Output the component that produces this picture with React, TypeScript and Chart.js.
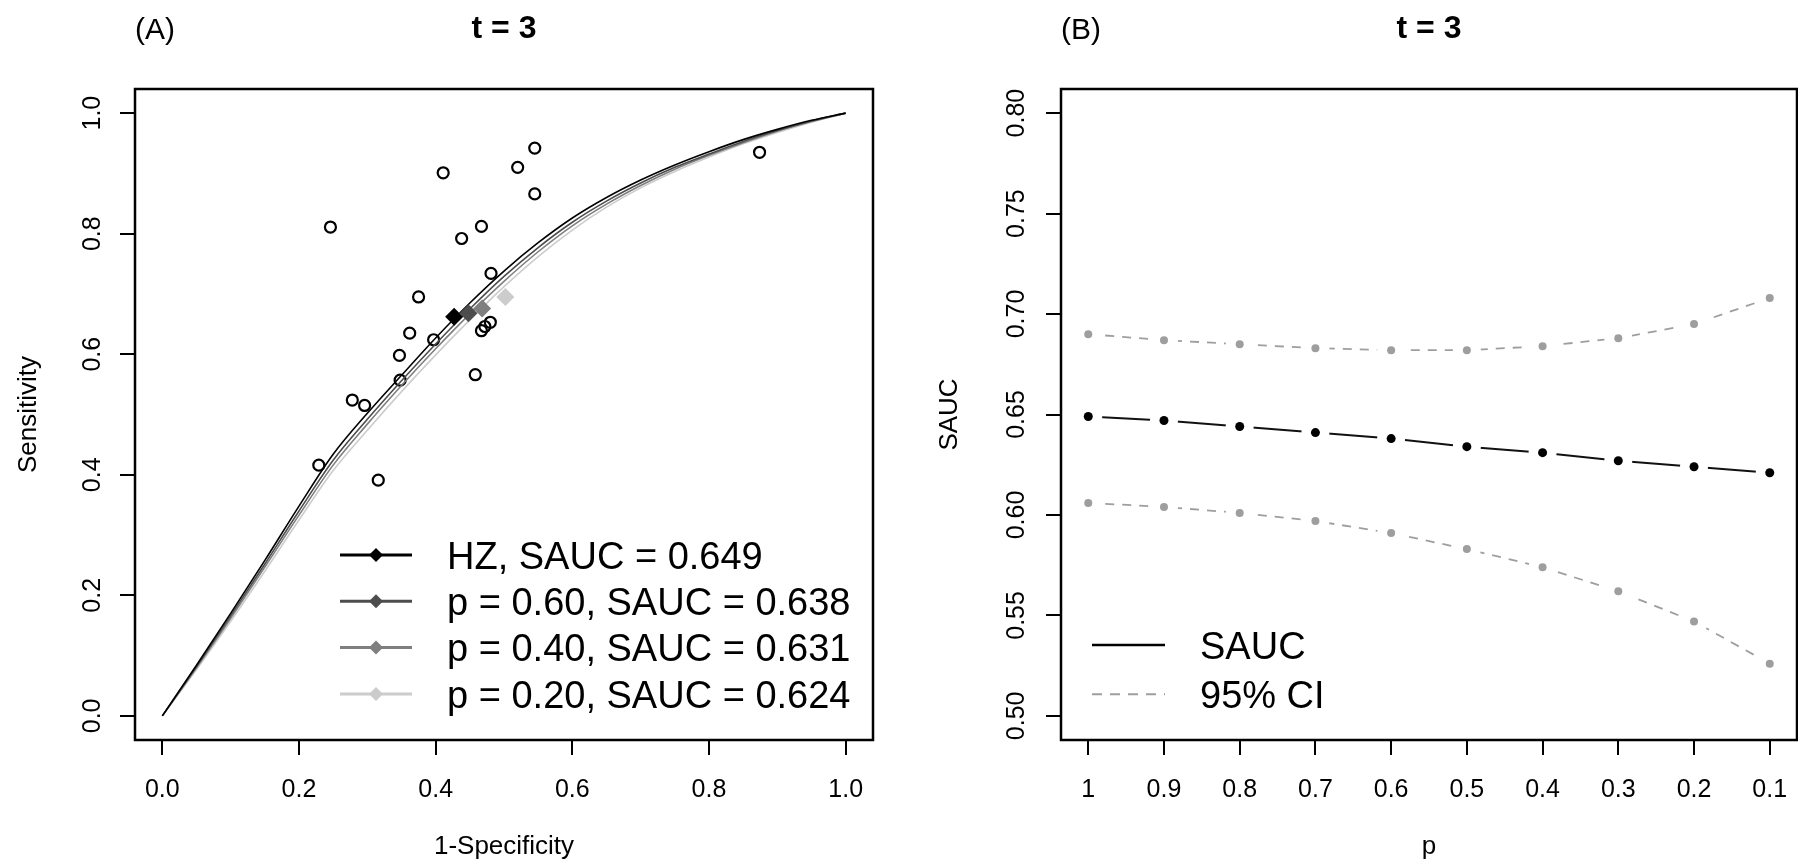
import React, { useEffect, useRef } from "react";
import { Chart, registerables } from "chart.js";

Chart.register(...registerables);

const FONT = '"Liberation Sans", Arial, Helvetica, sans-serif';

// ---------------- Panel A data ----------------
const ROC_FPR = [0, 0.05, 0.1, 0.15, 0.2, 0.25, 0.3, 0.35, 0.4, 0.45, 0.5, 0.55, 0.6, 0.65, 0.7, 0.75, 0.8, 0.85, 0.9, 0.95, 1.0];
const ROC_HZ = [0, 0.084, 0.170, 0.258, 0.348, 0.434, 0.502, 0.565, 0.627, 0.685, 0.738, 0.785, 0.826, 0.860, 0.889, 0.914, 0.936, 0.956, 0.973, 0.988, 1.0];
const ROC_P60 = [0, 0.082, 0.166, 0.252, 0.340, 0.424, 0.492, 0.556, 0.617, 0.675, 0.729, 0.777, 0.819, 0.854, 0.884, 0.910, 0.932, 0.953, 0.971, 0.987, 1.0];
const ROC_P40 = [0, 0.080, 0.162, 0.247, 0.333, 0.416, 0.484, 0.548, 0.609, 0.667, 0.721, 0.770, 0.813, 0.849, 0.880, 0.907, 0.930, 0.951, 0.970, 0.986, 1.0];
const ROC_P20 = [0, 0.077, 0.157, 0.240, 0.325, 0.407, 0.474, 0.538, 0.599, 0.657, 0.712, 0.762, 0.806, 0.844, 0.876, 0.903, 0.927, 0.949, 0.968, 0.985, 1.0];

const SUMMARY_FPR = [0.427, 0.448, 0.468, 0.502];
const SUMMARY_SENS = [0.662, 0.668, 0.676, 0.695];
const CURVE_LABELS = [
  "HZ, SAUC = 0.649",
  "p = 0.60, SAUC = 0.638",
  "p = 0.40, SAUC = 0.631",
  "p = 0.20, SAUC = 0.624",
];

const STUDY_FPR = [0.229, 0.246, 0.278, 0.296, 0.316, 0.348, 0.347, 0.362, 0.375, 0.397, 0.411, 0.438, 0.458, 0.467, 0.467, 0.472, 0.480, 0.481, 0.520, 0.545, 0.545, 0.874];
const STUDY_SENS = [0.416, 0.811, 0.524, 0.515, 0.391, 0.557, 0.598, 0.635, 0.695, 0.624, 0.901, 0.792, 0.566, 0.812, 0.639, 0.646, 0.653, 0.734, 0.910, 0.942, 0.866, 0.935];

const A_TICKS = [0, 0.2, 0.4, 0.6, 0.8, 1.0];
const A_TICK_LABELS = ["0.0", "0.2", "0.4", "0.6", "0.8", "1.0"];

// ---------------- Panel B data ----------------
const P_VALUES = [1, 0.9, 0.8, 0.7, 0.6, 0.5, 0.4, 0.3, 0.2, 0.1];
const P_TICK_LABELS = ["1", "0.9", "0.8", "0.7", "0.6", "0.5", "0.4", "0.3", "0.2", "0.1"];
const SAUC_VALUES = [0.649, 0.647, 0.644, 0.641, 0.638, 0.634, 0.631, 0.627, 0.624, 0.621];
const CI_UPPER = [0.690, 0.687, 0.685, 0.683, 0.682, 0.682, 0.684, 0.688, 0.695, 0.708];
const CI_LOWER = [0.606, 0.604, 0.601, 0.597, 0.591, 0.583, 0.574, 0.562, 0.547, 0.526];
const B_Y_TICKS = [0.5, 0.55, 0.6, 0.65, 0.7, 0.75, 0.8];
const B_Y_TICK_LABELS = ["0.50", "0.55", "0.60", "0.65", "0.70", "0.75", "0.80"];
const B_LEGEND = ["SAUC", "95% CI"];

// ---------------- styles ----------------
const CURVE_COLORS = ["#000000", "#4d4d4d", "#7f7f7f", "#cccccc"];
const CI_COLOR = "#9e9e9e";

function labelFor(values: number[], labels: string[], v: number) {
  const i = values.findIndex((t) => Math.abs(t - v) < 1e-9);
  return i >= 0 ? labels[i] : "";
}

function fixX(height: number) {
  return (s: any) => {
    s.height = height;
    s.paddingLeft = 0;
    s.paddingRight = 0;
    s.paddingTop = 0;
    s.paddingBottom = 0;
  };
}
function fixY(width: number) {
  return (s: any) => {
    s.width = width;
    s.paddingLeft = 0;
    s.paddingRight = 0;
    s.paddingTop = 0;
    s.paddingBottom = 0;
  };
}

const boxPlugin = {
  id: "box",
  afterDraw(chart: any) {
    const { ctx, chartArea: a } = chart;
    ctx.save();
    ctx.strokeStyle = "#000";
    ctx.lineWidth = 2.5;
    ctx.strokeRect(a.left, a.top, a.right - a.left, a.bottom - a.top);
    ctx.restore();
  },
};

const panelTitlePlugin = {
  id: "panelTitle",
  afterDraw(chart: any, _args: any, opts: any) {
    const { ctx, chartArea: a } = chart;
    ctx.save();
    ctx.fillStyle = "#000";
    ctx.textBaseline = "alphabetic";
    ctx.font = `30px ${FONT}`;
    ctx.textAlign = "left";
    ctx.fillText(opts.tag, a.left, 39);
    ctx.font = `bold 32px ${FONT}`;
    ctx.textAlign = "center";
    ctx.fillText(opts.title, (a.left + a.right) / 2, 38);
    ctx.restore();
  },
};

function diamond(ctx: CanvasRenderingContext2D, x: number, y: number, r: number) {
  ctx.beginPath();
  ctx.moveTo(x - r, y);
  ctx.lineTo(x, y - r);
  ctx.lineTo(x + r, y);
  ctx.lineTo(x, y + r);
  ctx.closePath();
  ctx.fill();
}

const legendAPlugin = {
  id: "legendA",
  afterDraw(chart: any) {
    const { ctx, chartArea: a } = chart;
    const x0 = a.left + 205;
    const x1 = a.left + 277;
    const xm = (x0 + x1) / 2;
    const tx = a.left + 312;
    ctx.save();
    CURVE_LABELS.forEach((label, i) => {
      const y = a.bottom - 185 + i * 46.3;
      ctx.strokeStyle = CURVE_COLORS[i];
      ctx.lineWidth = 3;
      ctx.beginPath();
      ctx.moveTo(x0, y);
      ctx.lineTo(x1, y);
      ctx.stroke();
      ctx.fillStyle = CURVE_COLORS[i];
      diamond(ctx, xm, y, 7);
      ctx.fillStyle = "#000";
      ctx.font = `38px ${FONT}`;
      ctx.textAlign = "left";
      ctx.textBaseline = "alphabetic";
      ctx.fillText(label, tx, y + 13.6);
    });
    ctx.restore();
  },
};

const legendBPlugin = {
  id: "legendB",
  afterDraw(chart: any) {
    const { ctx, chartArea: a } = chart;
    const x0 = a.left + 31;
    const x1 = a.left + 104;
    const tx = a.left + 139;
    const rows = [a.bottom - 95, a.bottom - 45.7];
    ctx.save();
    ctx.strokeStyle = "#000";
    ctx.lineWidth = 2.5;
    ctx.setLineDash([]);
    ctx.beginPath();
    ctx.moveTo(x0, rows[0]);
    ctx.lineTo(x1, rows[0]);
    ctx.stroke();
    ctx.strokeStyle = CI_COLOR;
    ctx.lineWidth = 2;
    ctx.setLineDash([10, 8]);
    ctx.beginPath();
    ctx.moveTo(x0, rows[1]);
    ctx.lineTo(x1, rows[1]);
    ctx.stroke();
    ctx.setLineDash([]);
    ctx.fillStyle = "#000";
    ctx.font = `38px ${FONT}`;
    ctx.textAlign = "left";
    ctx.textBaseline = "alphabetic";
    B_LEGEND.forEach((t, i) => ctx.fillText(t, tx, rows[i] + 13.6));
    ctx.restore();
  },
};

const tickFont = { family: FONT, size: 25 };
const titleFont = { family: FONT, size: 26 };
const tickGrid = { drawOnChartArea: false, drawTicks: true, tickLength: 15, color: "#000", lineWidth: 2 };

function configA(): any {
  const curve = (ys: number[], i: number) => ({
    label: CURVE_LABELS[i],
    data: ROC_FPR.map((x, k) => ({ x, y: ys[k] })),
    showLine: true,
    borderColor: CURVE_COLORS[i],
    borderWidth: 1.6,
    pointRadius: 0,
    cubicInterpolationMode: "monotone",
  });
  return {
    type: "scatter",
    data: {
      datasets: [
        {
          label: "Summary points",
          data: SUMMARY_FPR.map((x, k) => ({ x, y: SUMMARY_SENS[k] })),
          pointStyle: "rectRot",
          pointRadius: 9,
          pointBackgroundColor: CURVE_COLORS,
          pointBorderColor: CURVE_COLORS,
          pointBorderWidth: 0,
        },
        curve(ROC_HZ, 0),
        curve(ROC_P60, 1),
        curve(ROC_P40, 2),
        curve(ROC_P20, 3),
        {
          label: "Studies",
          data: STUDY_FPR.map((x, k) => ({ x, y: STUDY_SENS[k] })),
          pointStyle: "circle",
          pointRadius: 5.5,
          pointBorderWidth: 2.2,
          pointBorderColor: "#000",
          pointBackgroundColor: "rgba(0,0,0,0)",
        },
      ],
    },
    options: {
      responsive: false,
      animation: false,
      devicePixelRatio: 1,
      layout: { autoPadding: false, padding: { top: 89, right: 27, bottom: 0, left: 0 } },
      plugins: {
        legend: { display: false },
        tooltip: { enabled: false },
        panelTitle: { tag: "(A)", title: "t = 3" },
      },
      scales: {
        x: {
          type: "linear",
          min: -0.04,
          max: 1.04,
          afterBuildTicks: (s: any) => {
            s.ticks = A_TICKS.map((v) => ({ value: v }));
          },
          afterFit: fixX(123),
          ticks: {
            callback: (v: number) => labelFor(A_TICKS, A_TICK_LABELS, v),
            font: tickFont,
            color: "#000",
            padding: 20,
            minRotation: 0,
            maxRotation: 0,
            autoSkip: false,
          },
          grid: tickGrid,
          border: { display: false },
          title: { display: true, text: "1-Specificity", font: titleFont, color: "#000", padding: { top: 0, bottom: 0.4 } },
        },
        y: {
          type: "linear",
          min: -0.04,
          max: 1.04,
          afterBuildTicks: (s: any) => {
            s.ticks = A_TICKS.map((v) => ({ value: v }));
          },
          afterFit: fixY(135),
          ticks: {
            callback: (v: number) => labelFor(A_TICKS, A_TICK_LABELS, v),
            font: tickFont,
            color: "#000",
            padding: 9.6,
            minRotation: 90,
            maxRotation: 90,
            crossAlign: "center",
            autoSkip: false,
          },
          grid: tickGrid,
          border: { display: false },
          title: { display: true, text: "Sensitivity", font: titleFont, color: "#000", padding: { top: 12.9, bottom: 0 } },
        },
      },
    },
    plugins: [boxPlugin, panelTitlePlugin, legendAPlugin],
  };
}

function configB(): any {
  const pts = (arr: number[]) => P_VALUES.map((p, i) => ({ x: p, y: arr[i] }));
  return {
    type: "scatter",
    data: {
      datasets: [
        { label: "SAUC points", data: pts(SAUC_VALUES), pointRadius: 4.5, pointBackgroundColor: "#000", pointBorderWidth: 0, showLine: false },
        { label: "CI upper points", data: pts(CI_UPPER), pointRadius: 4, pointBackgroundColor: CI_COLOR, pointBorderWidth: 0, showLine: false },
        { label: "CI lower points", data: pts(CI_LOWER), pointRadius: 4, pointBackgroundColor: CI_COLOR, pointBorderWidth: 0, showLine: false },
        {
          label: "gaps",
          data: [...pts(SAUC_VALUES), ...pts(CI_UPPER), ...pts(CI_LOWER)],
          pointRadius: 14,
          pointBackgroundColor: "#ffffff",
          pointBorderWidth: 0,
          showLine: false,
        },
        { label: "SAUC", data: pts(SAUC_VALUES), showLine: true, pointRadius: 0, borderColor: "#111", borderWidth: 2 },
        { label: "95% CI upper", data: pts(CI_UPPER), showLine: true, pointRadius: 0, borderColor: CI_COLOR, borderWidth: 1.8, borderDash: [9, 8] },
        { label: "95% CI lower", data: pts(CI_LOWER), showLine: true, pointRadius: 0, borderColor: CI_COLOR, borderWidth: 1.8, borderDash: [9, 8] },
      ],
    },
    options: {
      responsive: false,
      animation: false,
      devicePixelRatio: 1,
      layout: { autoPadding: false, padding: { top: 89, right: 1, bottom: 0, left: 0 } },
      plugins: {
        legend: { display: false },
        tooltip: { enabled: false },
        panelTitle: { tag: "(B)", title: "t = 3" },
      },
      scales: {
        x: {
          type: "linear",
          reverse: true,
          min: 0.064,
          max: 1.036,
          afterBuildTicks: (s: any) => {
            s.ticks = P_VALUES.map((v) => ({ value: v }));
          },
          afterFit: fixX(123),
          ticks: {
            callback: (v: number) => labelFor(P_VALUES, P_TICK_LABELS, v),
            font: tickFont,
            color: "#000",
            padding: 20,
            minRotation: 0,
            maxRotation: 0,
            autoSkip: false,
          },
          grid: tickGrid,
          border: { display: false },
          title: { display: true, text: "p", font: titleFont, color: "#000", padding: { top: 0, bottom: 0.4 } },
        },
        y: {
          type: "linear",
          min: 0.488,
          max: 0.812,
          afterBuildTicks: (s: any) => {
            s.ticks = B_Y_TICKS.map((v) => ({ value: v }));
          },
          afterFit: fixY(161),
          ticks: {
            callback: (v: number) => labelFor(B_Y_TICKS, B_Y_TICK_LABELS, v),
            font: tickFont,
            color: "#000",
            padding: 4.1,
            minRotation: 90,
            maxRotation: 90,
            crossAlign: "center",
            autoSkip: false,
          },
          grid: tickGrid,
          border: { display: false },
          title: { display: true, text: "SAUC", font: titleFont, color: "#000", padding: { top: 34.4, bottom: 0 } },
        },
      },
    },
    plugins: [boxPlugin, panelTitlePlugin, legendBPlugin],
  };
}

export default function App() {
  const refA = useRef<HTMLCanvasElement>(null);
  const refB = useRef<HTMLCanvasElement>(null);

  useEffect(() => {
    document.body.style.overflow = "hidden";
    const a = new Chart(refA.current as HTMLCanvasElement, configA());
    const b = new Chart(refB.current as HTMLCanvasElement, configB());
    return () => {
      a.destroy();
      b.destroy();
    };
  }, []);

  return (
    <div style={{ position: "absolute", left: 0, top: 0, width: 1798, height: 863, background: "#fff", overflow: "hidden" }}>
      <canvas ref={refA} width={900} height={863} style={{ position: "absolute", left: 0, top: 0, width: 900, height: 863 }} />
      <canvas ref={refB} width={898} height={863} style={{ position: "absolute", left: 900, top: 0, width: 898, height: 863 }} />
    </div>
  );
}
